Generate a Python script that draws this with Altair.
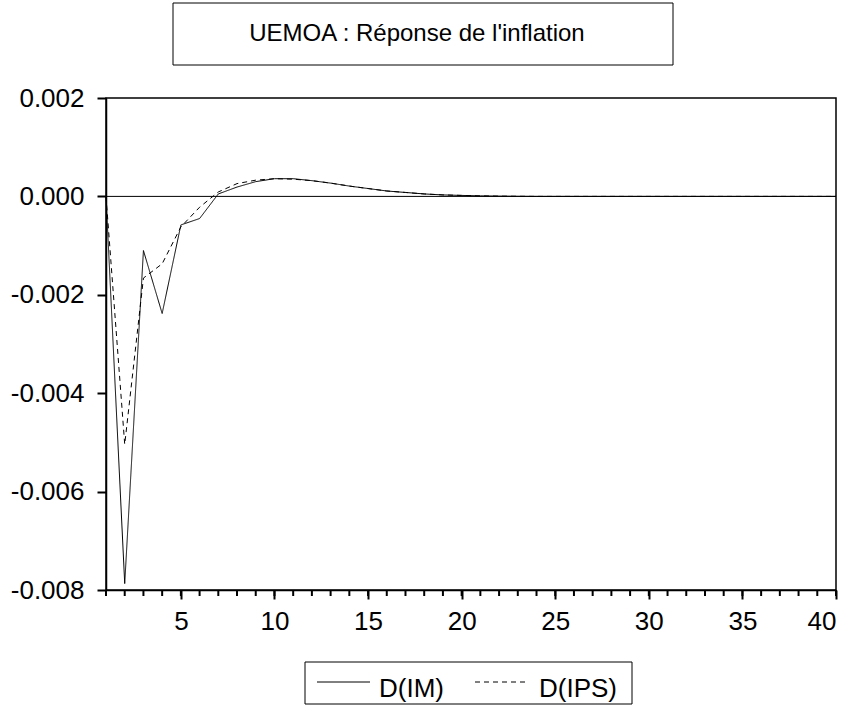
import altair as alt
import pandas as pd

TITLE = "UEMOA : Réponse de l'inflation"
SERIES = ["D(IM)", "D(IPS)"]
PERIODS = list(range(1, 41))

IM = [0.0, -0.00787, -0.00110, -0.00238, -0.00058, -0.00045, 0.00005, 0.00019,
      0.00030, 0.00036, 0.00036, 0.00032, 0.00027, 0.00021, 0.00016, 0.00011,
      0.00008, 0.00005, 0.00003, 0.00002, 0.00001, 0.000005, 0.000002, 0.0,
      0.0, 0.0, 0.0, 0.0, 0.0, 0.0, 0.0, 0.0, 0.0, 0.0, 0.0, 0.0, 0.0, 0.0, 0.0, 0.0]
IPS = [0.0, -0.00504, -0.00166, -0.00137, -0.00062, -0.00022, 0.00009, 0.00026,
       0.00033, 0.00036, 0.00035, 0.00032, 0.00027, 0.00021, 0.00016, 0.00011,
       0.00008, 0.00005, 0.00003, 0.00002, 0.00001, 0.000005, 0.000002, 0.0,
       0.0, 0.0, 0.0, 0.0, 0.0, 0.0, 0.0, 0.0, 0.0, 0.0, 0.0, 0.0, 0.0, 0.0, 0.0, 0.0]

Y_TICKS = [-0.008, -0.006, -0.004, -0.002, 0.0, 0.002]
X_TICKS = [5, 10, 15, 20, 25, 30, 35, 40]

FONT = "Liberation Sans"
W, H = 730, 492
DASHES = [[1, 0], [5, 4]]

df = pd.DataFrame({
    "t": PERIODS * 2,
    "value": IM + IPS,
    "series": [SERIES[0]] * len(PERIODS) + [SERIES[1]] * len(PERIODS),
})
ticks_df = pd.DataFrame({"t": PERIODS})
title_df = pd.DataFrame({"label": [TITLE]})

xscale = alt.Scale(domain=[1, 40], nice=False, zero=False)
yscale = alt.Scale(domain=[-0.008, 0.002], nice=False)

lines = alt.Chart(df).mark_line(color="black", strokeWidth=1).encode(
    x=alt.X("t:Q", scale=xscale,
            axis=alt.Axis(values=X_TICKS, title=None, ticks=True, tickSize=9, tickWidth=2,
                          tickColor="black", labelPadding=9,
                          labelFontSize=26, labelFont=FONT, grid=False, format="d")),
    y=alt.Y("value:Q", scale=yscale,
            axis=alt.Axis(values=Y_TICKS, title=None, ticks=True, tickSize=9, tickWidth=2,
                          tickColor="black", labelPadding=13,
                          labelFontSize=26, labelFont=FONT, grid=False,
                          labelExpr="(datum.value < -1e-9 ? '-' : '') + format(abs(datum.value), '.3f')")),
    strokeDash=alt.StrokeDash(
        "series:N",
        scale=alt.Scale(domain=SERIES, range=DASHES),
        legend=None,
    ),
)

zero = alt.Chart(pd.DataFrame({"z": [0.0]})).mark_rule(color="black", strokeWidth=1).encode(
    y=alt.Y("z:Q", scale=yscale)
)

minor = alt.Chart(ticks_df).mark_rule(color="black", strokeWidth=2).encode(
    x=alt.X("t:Q", scale=xscale),
    y=alt.value(H),
    y2=alt.value(H + 6),
)

# title box
title_box = alt.Chart(title_df).mark_rect(fill="white", stroke="black", strokeWidth=1).encode(
    x=alt.value(67), x2=alt.value(567), y=alt.value(-95), y2=alt.value(-33)
)
title_text = alt.Chart(title_df).mark_text(
    font=FONT, fontSize=24, color="black", align="center", baseline="alphabetic"
).encode(text="label:N", x=alt.value(311), y=alt.value(-57))

# legend box
leg_df = pd.DataFrame({"series": SERIES})
leg_box = alt.Chart(leg_df.head(1)).mark_rect(fill="white", stroke="black", strokeWidth=1).encode(
    x=alt.value(199), x2=alt.value(526), y=alt.value(564), y2=alt.value(606)
)
leg_line_1 = alt.Chart(leg_df.head(1)).mark_rule(color="black", strokeWidth=1, strokeDash=DASHES[0]).encode(
    x=alt.value(211), x2=alt.value(264), y=alt.value(584)
)
leg_line_2 = alt.Chart(leg_df.tail(1)).mark_rule(color="black", strokeWidth=1, strokeDash=DASHES[1]).encode(
    x=alt.value(369), x2=alt.value(419), y=alt.value(584)
)
leg_text_1 = alt.Chart(leg_df.head(1)).mark_text(
    font=FONT, fontSize=26, color="black", align="left", baseline="alphabetic"
).encode(text="series:N", x=alt.value(273), y=alt.value(599))
leg_text_2 = alt.Chart(leg_df.tail(1)).mark_text(
    font=FONT, fontSize=26, color="black", align="left", baseline="alphabetic"
).encode(text="series:N", x=alt.value(433), y=alt.value(599))

chart = alt.layer(
    title_box, title_text, zero, minor, lines,
    leg_box, leg_line_1, leg_line_2, leg_text_1, leg_text_2,
).properties(
    width=W, height=H,
    padding={"left": 10, "top": 2, "right": 10, "bottom": 0},
).configure_view(
    stroke="black", strokeWidth=1.5
).configure_axis(
    domainColor="black", domainWidth=1.5, tickColor="black", tickWidth=2, labelColor="black"
)

chart.save("out.html", embed_options={"renderer": "svg", "actions": False})
